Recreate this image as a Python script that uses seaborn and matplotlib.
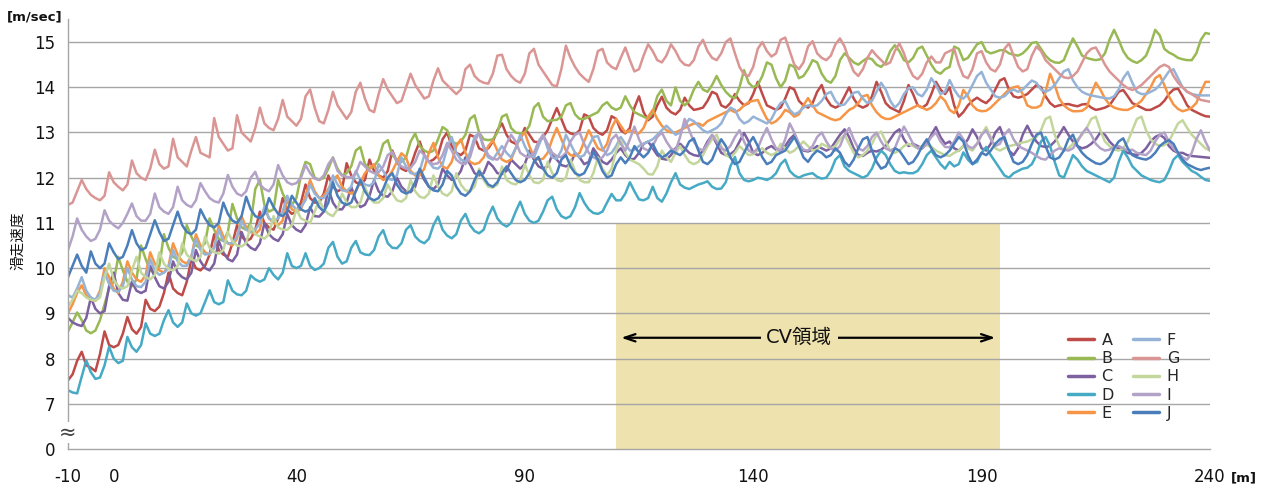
import numpy as np
import pandas as pd
import matplotlib
matplotlib.use("Agg")
import matplotlib.pyplot as plt
from matplotlib.lines import Line2D
import seaborn as sns

# ---------------- data ----------------
distance = list(range(-10, 241))  # [m], one sample per metre

A = [7.52, 7.65, 7.95, 8.15, 7.85, 7.80, 7.72, 8.10, 8.60, 8.30,
     8.25, 8.30, 8.55, 8.92, 8.65, 8.55, 8.70, 9.30, 9.10, 9.05,
     9.15, 9.45, 9.90, 9.55, 9.45, 9.40, 9.70, 10.20, 10.00, 9.95,
     10.05, 10.30, 10.75, 10.40, 10.30, 10.25, 10.55, 10.95, 10.70, 10.60,
     10.65, 10.85, 11.25, 11.00, 10.90, 10.85, 11.10, 11.55, 11.30, 11.20,
     11.25, 11.45, 11.85, 11.55, 11.45, 11.45, 11.65, 12.05, 11.80, 11.70,
     11.75, 12.32, 12.05, 11.90, 11.85, 11.95, 12.40, 12.15, 12.05, 12.00,
     12.15, 12.60, 12.35, 12.20, 12.15, 12.25, 12.55, 12.80, 12.50, 12.35,
     12.40, 12.50, 12.85, 13.00, 12.70, 12.55, 12.50, 12.60, 12.95, 12.90,
     12.65, 12.60, 12.65, 12.80, 13.05, 13.20, 12.95, 12.80, 12.75, 12.85,
     13.10, 12.95, 12.80, 12.78, 12.90, 13.05, 13.30, 13.54, 13.30, 13.05,
     12.98, 12.95, 13.05, 13.40, 13.35, 13.10, 13.00, 12.95, 13.05, 13.36,
     13.30, 13.05, 12.98, 13.10, 13.55, 13.80, 13.45, 13.27, 13.35, 13.60,
     13.79, 13.55, 13.45, 13.40, 13.50, 13.77, 13.60, 13.50, 13.52, 13.55,
     13.70, 13.90, 13.85, 13.60, 13.55, 13.65, 13.85, 13.70, 13.60, 13.65,
     13.85, 14.12, 13.85, 13.60, 13.55, 13.50, 13.55, 13.75, 14.00, 13.95,
     13.70, 13.60, 13.55, 13.65, 13.90, 14.05, 13.75, 13.60, 13.55, 13.60,
     13.80, 14.00, 13.75, 13.60, 13.55, 13.60, 13.80, 14.12, 13.90, 13.65,
     13.55, 13.50, 13.45, 13.70, 14.05, 13.85, 13.60, 13.55, 13.62, 13.85,
     14.12, 13.95, 13.85, 14.00, 13.60, 13.35, 13.45, 13.60, 13.70, 13.77,
     13.70, 13.65, 13.75, 13.95, 14.15, 14.20, 13.95, 13.80, 13.77, 13.80,
     13.85, 13.95, 14.05, 14.00, 13.80, 13.65, 13.57, 13.60, 13.62, 13.63,
     13.60, 13.58, 13.62, 13.63, 13.55, 13.50, 13.52, 13.55, 13.60, 13.75,
     13.90, 13.94, 13.80, 13.65, 13.60, 13.55, 13.50, 13.50, 13.55, 13.60,
     13.70, 13.85, 13.95, 13.97, 13.80, 13.60, 13.50, 13.45, 13.40, 13.36,
     13.35]

B = [8.60, 8.80, 9.02, 8.85, 8.62, 8.56, 8.62, 8.85, 9.20, 9.55,
     9.70, 10.25, 9.95, 9.70, 9.60, 9.75, 10.50, 10.20, 9.95, 9.90,
     10.05, 10.75, 10.45, 10.25, 10.20, 10.35, 10.95, 10.70, 10.50, 10.45,
     10.55, 11.10, 10.85, 10.65, 10.60, 10.80, 11.42, 11.10, 10.90, 10.85,
     11.00, 11.75, 11.95, 11.40, 11.25, 11.30, 11.95, 11.65, 11.45, 11.40,
     11.55, 12.05, 12.35, 12.30, 12.00, 11.95, 12.00, 12.20, 12.45, 12.20,
     12.05, 12.10, 12.25, 12.60, 12.68, 12.30, 12.20, 12.25, 12.40, 12.75,
     12.83, 12.50, 12.40, 12.35, 12.45, 12.80, 12.98, 12.70, 12.60, 12.55,
     12.60, 12.85, 13.12, 13.05, 12.80, 12.75, 12.80, 12.95, 13.30, 13.38,
     13.00, 12.85, 12.83, 12.85, 13.00, 13.35, 13.40, 13.10, 13.00, 12.98,
     13.00, 13.15, 13.55, 13.65, 13.35, 13.25, 13.27, 13.28, 13.35, 13.60,
     13.65, 13.40, 13.30, 13.30, 13.35, 13.40, 13.45, 13.60, 13.67, 13.55,
     13.50, 13.55, 13.80, 13.60, 13.45, 13.40, 13.35, 13.30, 13.45, 13.80,
     13.95, 13.70, 13.60, 14.00, 13.70, 13.60, 13.70, 13.95, 14.12, 13.95,
     13.90, 14.05, 14.25, 14.05, 13.90, 13.80, 13.76, 14.00, 14.38, 14.10,
     14.00, 14.05, 14.25, 14.55, 14.50, 14.20, 14.00, 14.15, 14.50, 14.45,
     14.20, 14.25, 14.40, 14.60, 14.55, 14.30, 14.15, 14.10, 14.25, 14.60,
     14.75, 14.65, 14.55, 14.50, 14.58, 14.65, 14.62, 14.50, 14.45, 14.55,
     14.80, 14.93, 14.80, 14.60, 14.55, 14.65, 14.85, 14.90, 14.70, 14.50,
     14.35, 14.30, 14.40, 14.45, 14.90, 14.85, 14.60, 14.65, 14.80, 14.95,
     15.00, 14.80, 14.75, 14.78, 14.82, 14.82, 14.75, 14.72, 14.70, 14.75,
     14.85, 14.98, 15.00, 14.85, 14.70, 14.60, 14.55, 14.54, 14.60, 14.85,
     15.08, 14.90, 14.70, 14.65, 14.62, 14.60, 14.62, 14.75, 15.05, 15.27,
     15.05, 14.80, 14.65, 14.58, 14.54, 14.60, 14.70, 14.95, 15.27, 15.15,
     14.85, 14.77, 14.72, 14.65, 14.62, 14.60, 14.60, 14.75, 15.05, 15.20,
     15.18]

C = [8.90, 8.80, 8.75, 8.72, 8.90, 9.35, 9.10, 9.00, 9.05, 9.60,
     9.90, 9.45, 9.30, 9.28, 9.70, 9.50, 9.45, 9.50, 10.05, 9.80,
     9.60, 9.55, 9.70, 10.15, 9.90, 9.80, 9.75, 9.90, 10.40, 10.15,
     10.00, 9.95, 10.10, 10.60, 10.35, 10.20, 10.15, 10.30, 10.80, 10.55,
     10.45, 10.40, 10.55, 11.00, 10.75, 10.65, 10.60, 10.75, 11.20, 10.95,
     10.85, 10.80, 10.95, 11.35, 11.15, 11.14, 11.25, 11.75, 11.45, 11.30,
     11.30, 11.45, 11.80, 11.50, 11.35, 11.40, 11.60, 11.95, 11.70, 11.60,
     11.58, 11.70, 12.00, 11.80, 11.70, 11.68, 11.80, 12.15, 11.95, 11.80,
     11.75, 11.85, 12.20, 12.05, 11.95, 12.00, 12.15, 12.45, 12.30, 12.10,
     12.05, 12.10, 12.35, 12.25, 12.10, 12.08, 12.15, 12.40, 12.30, 12.20,
     12.30, 12.60, 12.40, 12.25, 12.20, 12.25, 12.50, 12.40, 12.28, 12.25,
     12.30, 12.55, 12.45, 12.30, 12.35, 12.65, 12.50, 12.35, 12.30, 12.40,
     12.55, 12.65, 12.50, 12.40, 12.42, 12.55, 12.75, 12.80, 12.65, 12.50,
     12.42, 12.40, 12.50, 12.65, 12.75, 12.65, 12.55, 12.50, 12.48, 12.60,
     12.80, 12.94, 12.75, 12.55, 12.50, 12.52, 12.60, 12.80, 12.99, 12.80,
     12.55, 12.50, 12.55, 12.65, 12.70, 12.62, 12.60, 12.70, 12.85, 12.95,
     12.75, 12.60, 12.58, 12.62, 12.70, 12.65, 12.60, 12.65, 12.80, 12.95,
     13.07, 12.90, 12.65, 12.50, 12.48, 12.55, 12.60, 12.58, 12.62, 12.70,
     12.85, 13.00, 13.07, 12.85, 12.70, 12.75, 12.70, 12.65, 12.75, 12.95,
     13.12, 12.90, 12.75, 12.80, 12.65, 12.60, 12.70, 12.85, 13.07, 12.90,
     12.65, 12.60, 12.75, 13.00, 13.12, 12.85, 12.60, 12.50, 12.65, 12.95,
     13.15, 12.95, 12.80, 12.70, 12.68, 12.70, 12.80, 12.95, 13.12, 12.95,
     12.80, 12.70, 12.65, 12.68, 12.75, 12.85, 13.00, 12.95, 12.80, 12.70,
     12.65, 12.60, 12.55, 12.52, 12.50, 12.55, 12.65, 12.80, 12.90, 12.95,
     12.88, 12.70, 12.60, 12.55, 12.55, 12.50, 12.48, 12.47, 12.46, 12.45,
     12.44]

D = [7.30, 7.25, 7.23, 7.60, 7.96, 7.70, 7.55, 7.58, 7.85, 8.26,
     8.00, 7.90, 7.95, 8.48, 8.25, 8.15, 8.30, 8.78, 8.55, 8.50,
     8.55, 8.85, 9.07, 8.80, 8.70, 8.80, 9.22, 9.00, 8.95, 9.00,
     9.25, 9.51, 9.25, 9.20, 9.25, 9.73, 9.50, 9.42, 9.40, 9.50,
     9.84, 9.75, 9.70, 9.75, 10.00, 9.85, 9.75, 9.90, 10.33, 10.05,
     10.00, 10.05, 10.33, 10.05, 9.96, 10.00, 10.10, 10.45, 10.58, 10.25,
     10.10, 10.15, 10.45, 10.60, 10.35, 10.30, 10.29, 10.40, 10.70, 10.84,
     10.55, 10.45, 10.44, 10.55, 10.85, 10.95, 10.70, 10.60, 10.55, 10.65,
     10.95, 11.14, 10.85, 10.72, 10.66, 10.75, 11.05, 11.20, 10.95, 10.82,
     10.77, 10.85, 11.15, 11.36, 11.10, 10.98, 10.92, 11.00, 11.25, 11.47,
     11.20, 11.05, 11.00, 11.05, 11.25, 11.50, 11.58, 11.30, 11.15, 11.10,
     11.15, 11.35, 11.66, 11.45, 11.30, 11.22, 11.20, 11.25, 11.45, 11.64,
     11.50, 11.50, 11.65, 11.90, 11.70, 11.52, 11.50, 11.55, 11.80, 11.55,
     11.47, 11.65, 11.90, 12.10, 11.85, 11.78, 11.75, 11.80, 11.85, 11.88,
     11.92, 11.80, 11.75, 11.76, 11.90, 12.25, 12.46, 12.10, 11.95, 11.92,
     11.95, 12.00, 11.98, 11.95, 12.00, 12.10, 12.30, 12.40, 12.15, 12.05,
     12.00, 12.05, 12.08, 12.10, 12.02, 11.98, 12.00, 12.15, 12.40, 12.50,
     12.25, 12.15, 12.10, 12.05, 12.00, 12.05, 12.20, 12.45, 12.60, 12.50,
     12.30, 12.15, 12.10, 12.12, 12.10, 12.10, 12.15, 12.30, 12.50, 12.60,
     12.45, 12.30, 12.20, 12.35, 12.25, 12.30, 12.56, 12.40, 12.30, 12.35,
     12.55, 12.68, 12.50, 12.35, 12.20, 12.05, 12.00, 12.10, 12.15, 12.20,
     12.22, 12.30, 12.50, 12.80, 12.90, 12.70, 12.35, 12.05, 12.00, 12.25,
     12.50, 12.40, 12.25, 12.15, 12.10, 12.05, 12.00, 11.95, 11.90, 12.00,
     12.35, 12.60, 12.45, 12.25, 12.15, 12.05, 12.00, 11.95, 11.92, 11.90,
     11.95, 12.15, 12.40, 12.50, 12.35, 12.25, 12.15, 12.10, 12.02, 11.95,
     11.93]

E = [9.00, 9.20, 9.45, 9.62, 9.40, 9.30, 9.28, 9.50, 10.00, 9.80,
     9.55, 9.45, 9.70, 10.15, 9.90, 9.75, 9.70, 9.85, 10.35, 10.10,
     9.95, 9.90, 10.05, 10.55, 10.30, 10.15, 10.10, 10.25, 10.75, 10.50,
     10.35, 10.30, 10.45, 10.95, 10.70, 10.55, 10.50, 10.65, 11.15, 10.90,
     10.80, 10.75, 10.85, 11.35, 11.10, 11.00, 10.95, 11.05, 11.55, 11.30,
     11.25, 11.30, 11.60, 11.95, 11.70, 11.55, 11.60, 11.75, 11.95, 12.05,
     11.80, 11.70, 11.65, 11.70, 11.90, 12.10, 12.20, 12.30, 12.05, 11.95,
     12.00, 12.15, 12.35, 12.54, 12.45, 12.15, 12.05, 12.05, 12.20, 12.55,
     12.77, 12.45, 12.25, 12.20, 12.35, 12.70, 12.85, 12.55, 12.35, 12.30,
     12.33, 12.45, 12.70, 12.82, 12.60, 12.40, 12.35, 12.40, 12.65, 12.90,
     13.00, 12.70, 12.45, 12.40, 12.42, 12.55, 12.85, 13.10, 12.85, 12.60,
     12.50, 12.48, 12.55, 12.80, 13.05, 12.85, 12.65, 12.60, 12.75, 13.10,
     13.30, 13.15, 13.00, 13.05, 13.00, 12.98, 13.10, 13.35, 13.50, 13.30,
     13.15, 13.05, 13.00, 13.00, 13.05, 13.10, 13.15, 13.20, 13.20, 13.15,
     13.25, 13.30, 13.35, 13.40, 13.45, 13.50, 13.45, 13.50, 13.60, 13.67,
     13.70, 13.72, 13.50, 13.30, 13.20, 13.25, 13.35, 13.50, 13.45, 13.35,
     13.40, 13.60, 13.76, 13.60, 13.45, 13.40, 13.35, 13.30, 13.27, 13.30,
     13.40, 13.50, 13.55, 13.65, 13.80, 13.83, 13.60, 13.45, 13.35, 13.30,
     13.30, 13.35, 13.40, 13.45, 13.50, 13.55, 13.60, 13.55, 13.50, 13.55,
     13.65, 13.80, 13.70, 13.50, 13.43, 13.60, 13.94, 13.80, 13.60, 13.50,
     13.47, 13.48, 13.55, 13.65, 13.75, 13.85, 13.95, 14.00, 14.02, 13.85,
     13.60, 13.55, 13.55, 13.60, 13.90, 14.30, 14.05, 13.75, 13.60, 13.52,
     13.47, 13.47, 13.48, 13.55, 13.85, 14.10, 13.95, 13.75, 13.62, 13.55,
     13.52, 13.50, 13.50, 13.55, 13.62, 13.70, 13.85, 14.00, 14.20, 14.27,
     14.05, 13.80, 13.62, 13.52, 13.47, 13.50, 13.55, 13.65, 13.90, 14.12,
     14.12]

F = [9.40, 9.35, 9.55, 9.80, 9.50, 9.35, 9.30, 9.45, 9.90, 9.65,
     9.50, 9.48, 9.60, 10.00, 9.75, 9.60, 9.58, 9.70, 10.20, 9.95,
     9.85, 9.90, 10.00, 10.40, 10.15, 10.05, 10.05, 10.25, 10.65, 10.40,
     10.30, 10.32, 10.45, 10.85, 10.60, 10.55, 10.55, 10.70, 11.05, 10.85,
     10.80, 10.85, 11.00, 11.35, 11.10, 11.05, 11.10, 11.25, 11.60, 11.40,
     11.30, 11.35, 11.50, 11.85, 11.65, 11.55, 11.55, 11.70, 12.05, 11.85,
     11.72, 11.70, 11.80, 12.15, 11.95, 11.85, 11.82, 11.90, 12.30, 12.15,
     11.98, 11.95, 12.05, 12.45, 12.25, 12.10, 12.08, 12.15, 12.50, 12.35,
     12.22, 12.20, 12.30, 12.65, 12.90, 12.55, 12.40, 12.35, 12.55, 12.90,
     12.99, 12.65, 12.45, 12.40, 12.55, 12.70, 12.55, 12.45, 12.65, 12.95,
     12.70, 12.50, 12.45, 12.70, 12.95, 12.65, 12.45, 12.42, 12.60, 12.95,
     12.75, 12.55, 12.45, 12.50, 12.70, 12.90, 12.92, 12.65, 12.50, 12.55,
     12.70, 12.90, 12.75, 12.60, 12.62, 12.70, 12.75, 12.80, 12.85, 12.95,
     13.05, 13.15, 13.05, 12.95, 13.00, 13.15, 13.30, 13.25, 13.15, 13.05,
     13.00, 13.05, 13.10, 13.20, 13.40, 13.55, 13.50, 13.30, 13.20, 13.25,
     13.35, 13.30, 13.25, 13.20, 13.30, 13.50, 13.65, 13.70, 13.50, 13.40,
     13.45, 13.55, 13.60, 13.58, 13.60, 13.70, 13.85, 13.90, 13.70, 13.60,
     13.62, 13.75, 13.88, 13.90, 13.75, 13.65, 13.70, 13.90, 14.10, 13.95,
     13.70, 13.55, 13.65, 13.85, 13.98, 14.00, 13.85, 13.80, 13.95, 14.20,
     14.05, 13.85, 13.90, 14.16, 13.95, 13.80, 13.75, 13.85, 14.05, 14.25,
     14.34, 14.10, 13.95, 13.80, 13.77, 13.80, 13.90, 13.95, 13.90, 13.95,
     14.05, 14.15, 14.10, 13.95, 13.90, 13.95, 14.05, 14.20, 14.35, 14.40,
     14.15, 14.00, 13.90, 13.85, 13.82, 13.80, 13.78, 13.76, 13.75, 13.80,
     13.95, 14.20, 14.34, 14.10, 13.90, 13.85, 13.85, 13.90, 13.95, 14.05,
     14.20, 14.35, 14.40, 14.20, 14.00, 13.90, 13.85, 13.83, 13.82, 13.82,
     13.82]

G = [11.40, 11.45, 11.70, 11.95, 11.75, 11.62, 11.55, 11.50, 11.60, 12.12,
     11.90, 11.80, 11.72, 11.85, 12.38, 12.10, 12.00, 11.95, 12.20, 12.62,
     12.30, 12.20, 12.25, 12.86, 12.45, 12.35, 12.25, 12.60, 12.90, 12.55,
     12.50, 12.45, 13.32, 12.90, 12.75, 12.60, 12.65, 13.38, 13.00, 12.90,
     12.80, 13.10, 13.55, 13.20, 13.10, 13.05, 13.30, 13.72, 13.35, 13.25,
     13.15, 13.30, 13.80, 13.95, 13.55, 13.25, 13.20, 13.50, 13.90, 13.60,
     13.45, 13.30, 13.45, 13.90, 14.10, 13.75, 13.50, 13.45, 13.85, 14.18,
     13.95, 13.80, 13.65, 13.70, 14.00, 14.30, 14.05, 13.90, 13.75, 13.80,
     14.15, 14.42, 14.15, 14.05, 13.95, 13.85, 13.95, 14.40, 14.50, 14.25,
     14.15, 14.10, 14.08, 14.30, 14.70, 14.72, 14.40, 14.25, 14.15, 14.10,
     14.30, 14.75, 14.85, 14.50, 14.35, 14.20, 14.05, 14.02, 14.40, 14.92,
     14.65, 14.45, 14.30, 14.20, 14.12, 14.40, 14.80, 14.85, 14.55, 14.45,
     14.40, 14.65, 14.88, 14.60, 14.35, 14.40, 14.70, 14.95, 14.80, 14.60,
     14.55, 14.70, 14.95, 14.80, 14.60, 14.50, 14.48, 14.60, 14.90, 15.05,
     14.80, 14.65, 14.60, 14.75, 15.00, 15.08, 14.75, 14.45, 14.28, 14.25,
     14.45, 14.85, 15.00, 14.80, 14.68, 14.75, 15.05, 15.10, 14.80, 14.50,
     14.40, 14.55, 14.90, 15.02, 14.75, 14.65, 14.60, 14.70, 14.95, 15.08,
     14.90, 14.60, 14.35, 14.25, 14.40, 14.65, 14.82, 14.70, 14.60, 14.50,
     14.55, 14.80, 14.97, 14.75, 14.45, 14.25, 14.18, 14.30, 14.55, 14.68,
     14.55, 14.55, 14.75, 14.80, 14.85, 14.50, 14.25, 14.20, 14.40, 14.75,
     14.80, 14.55, 14.40, 14.35, 14.50, 14.85, 14.97, 14.70, 14.45, 14.35,
     14.40, 14.70, 14.90, 14.80, 14.60, 14.50, 14.40, 14.30, 14.22, 14.20,
     14.25, 14.35, 14.55, 14.75, 14.85, 14.88, 14.70, 14.50, 14.35, 14.25,
     14.15, 14.05, 13.98, 13.94, 13.98, 14.05, 14.15, 14.25, 14.35, 14.45,
     14.50, 14.45, 14.25, 14.10, 14.00, 13.90, 13.85, 13.78, 13.72, 13.70,
     13.68]

H = [9.15, 9.30, 9.50, 9.45, 9.35, 9.30, 9.28, 9.35, 9.80, 10.10,
     9.75, 9.60, 9.55, 9.60, 9.95, 10.25, 9.90, 9.80, 9.75, 9.85,
     10.35, 10.10, 9.98, 9.95, 10.05, 10.55, 10.30, 10.20, 10.15, 10.25,
     10.70, 10.45, 10.35, 10.32, 10.40, 10.80, 10.60, 10.50, 10.48, 10.55,
     10.95, 10.75, 10.70, 10.65, 10.75, 11.15, 10.90, 10.85, 10.85, 10.95,
     11.30, 11.10, 11.05, 11.00, 11.25, 11.50, 11.30, 11.20, 11.15, 11.30,
     11.65, 11.45, 11.35, 11.35, 11.45, 11.80, 11.55, 11.45, 11.45, 11.55,
     11.85, 11.65, 11.50, 11.47, 11.55, 11.95, 11.70, 11.58, 11.55, 11.65,
     12.05, 11.80, 11.65, 11.60, 11.70, 12.10, 11.85, 11.72, 11.70, 11.80,
     12.20, 11.95, 11.80, 11.78, 11.85, 12.25, 11.95, 11.88, 11.85, 11.95,
     12.30, 12.05, 11.90, 11.88, 11.95, 12.35, 12.10, 11.95, 11.92, 12.00,
     12.40, 12.15, 11.95, 11.90, 11.90, 12.10, 12.45, 12.20, 12.05, 12.20,
     12.60, 12.83, 12.55, 12.40, 12.35, 12.30, 12.20, 12.08, 12.07, 12.25,
     12.60, 12.45, 12.35, 12.55, 12.70, 12.50, 12.35, 12.30, 12.35, 12.50,
     12.70, 12.85, 12.95, 12.70, 12.50, 12.45, 12.55, 12.70, 12.60, 12.50,
     12.52, 12.60, 12.65, 12.55, 12.50, 12.55, 12.75, 12.65, 12.55, 12.60,
     12.70, 12.80, 12.70, 12.60, 12.62, 12.75, 12.70, 12.65, 12.70, 12.85,
     12.95, 12.75, 12.55, 12.45, 12.50, 12.60, 12.75, 12.95, 13.02, 12.80,
     12.60, 12.55, 12.60, 12.70, 12.75, 12.70, 12.65, 12.70, 12.72, 12.68,
     12.60, 12.55, 12.50, 12.48, 12.55, 12.60, 12.70, 12.65, 12.60, 12.75,
     12.95, 13.12, 12.90, 12.65, 12.60, 12.65, 12.70, 12.72, 12.75, 12.78,
     12.80, 12.85, 12.90, 13.05, 13.30, 13.35, 12.95, 12.70, 12.60, 12.65,
     12.75, 12.85, 12.95, 13.10, 13.30, 13.35, 13.05, 12.80, 12.70, 12.62,
     12.60, 12.65, 12.80, 13.05, 13.30, 13.35, 13.05, 12.85, 12.75, 12.70,
     12.72, 12.80, 13.00, 13.20, 13.27, 13.10, 12.95, 12.85, 12.75, 12.65,
     12.60]

I = [10.40, 10.70, 11.10, 10.85, 10.70, 10.60, 10.65, 10.85, 11.28, 11.05,
     10.95, 10.88, 11.00, 11.20, 11.43, 11.15, 11.05, 11.05, 11.20, 11.65,
     11.35, 11.25, 11.20, 11.35, 11.80, 11.50, 11.40, 11.35, 11.50, 11.88,
     11.70, 11.55, 11.48, 11.45, 11.65, 12.06, 11.80, 11.65, 11.60, 11.70,
     12.00, 12.13, 11.85, 11.75, 11.70, 11.85, 12.28, 12.05, 11.90, 11.85,
     11.88, 12.00, 12.28, 12.10, 11.98, 11.95, 12.05, 12.30, 12.44, 12.15,
     12.05, 12.02, 12.00, 12.10, 12.35, 12.25, 12.15, 12.10, 12.12, 12.25,
     12.50, 12.57, 12.35, 12.25, 12.20, 12.22, 12.35, 12.60, 12.50, 12.35,
     12.30, 12.32, 12.50, 12.77, 12.60, 12.40, 12.32, 12.30, 12.45, 12.80,
     12.99, 12.70, 12.50, 12.42, 12.40, 12.50, 12.75, 12.95, 12.80, 12.55,
     12.48, 12.45, 12.55, 12.80, 12.95, 12.75, 12.55, 12.48, 12.45, 12.55,
     12.80, 12.95, 13.00, 12.75, 12.55, 12.45, 12.40, 12.45, 12.60, 12.85,
     12.95, 12.75, 12.60, 12.85, 13.13, 12.85, 12.65, 12.60, 12.70, 12.90,
     13.00, 12.80, 12.65, 12.60, 12.90, 13.30, 13.05, 12.80, 12.65, 12.60,
     12.75, 12.95, 12.80, 12.65, 12.60, 12.70, 12.90, 13.05, 12.80, 12.60,
     12.55, 12.65, 12.90, 13.10, 12.85, 12.65, 12.60, 12.85, 13.20, 13.00,
     12.75, 12.62, 12.60, 12.70, 12.90, 13.00, 12.80, 12.65, 12.60, 12.70,
     12.95, 13.10, 12.85, 12.65, 12.60, 12.70, 12.90, 13.00, 12.80, 12.65,
     12.60, 12.65, 12.90, 13.13, 12.95, 12.75, 12.65, 12.65, 12.75, 12.90,
     13.00, 12.80, 12.68, 12.67, 12.80, 13.00, 12.85, 12.70, 12.65, 12.75,
     12.95, 13.05, 12.85, 12.70, 12.75, 12.95, 13.07, 12.85, 12.70, 12.65,
     12.60, 12.55, 12.48, 12.42, 12.40, 12.50, 12.60, 12.65, 12.62, 12.60,
     12.65, 12.80, 12.98, 13.10, 12.95, 12.75, 12.65, 12.60, 12.62, 12.68,
     12.70, 12.65, 12.60, 12.62, 12.55, 12.52, 12.50, 12.60, 12.80, 12.95,
     13.00, 12.80, 12.65, 12.55, 12.45, 12.40, 12.55, 12.85, 13.05, 12.80,
     12.60]

J = [9.80, 10.05, 10.30, 10.05, 9.90, 10.37, 10.10, 10.00, 10.10, 10.55,
     10.35, 10.20, 10.25, 10.50, 10.84, 10.55, 10.40, 10.45, 10.75, 11.06,
     10.80, 10.60, 10.65, 10.95, 11.25, 10.95, 10.80, 10.75, 10.85, 11.30,
     11.10, 10.95, 10.90, 11.00, 11.45, 11.20, 11.05, 11.00, 11.15, 11.58,
     11.30, 11.15, 11.10, 11.20, 11.55, 11.35, 11.20, 11.15, 11.25, 11.60,
     11.45, 11.30, 11.25, 11.30, 11.55, 11.35, 11.25, 11.45, 11.90, 11.60,
     11.45, 11.40, 11.45, 11.70, 11.95, 11.70, 11.55, 11.50, 11.55, 11.75,
     12.00, 12.10, 11.85, 11.70, 11.65, 11.70, 11.90, 12.20, 12.00, 11.80,
     11.72, 11.70, 11.85, 12.15, 12.05, 11.80, 11.65, 11.60, 11.70, 11.95,
     12.15, 12.00, 11.85, 11.80, 11.90, 12.10, 12.25, 12.10, 11.95, 11.90,
     11.95, 12.10, 12.35, 12.46, 12.20, 12.05, 12.00, 12.10, 12.40, 12.50,
     12.25, 12.10, 12.05, 12.10, 12.30, 12.57, 12.40, 12.15, 12.00, 12.05,
     12.30, 12.45, 12.32, 12.45, 12.70, 12.55, 12.45, 12.55, 12.75, 12.55,
     12.45, 12.50, 12.60, 12.55, 12.50, 12.60, 12.80, 12.87, 12.60, 12.35,
     12.30, 12.40, 12.65, 12.85, 12.70, 12.45, 12.30, 12.35, 12.55, 12.75,
     12.90, 12.70, 12.45, 12.30, 12.35, 12.50, 12.55, 12.60, 12.75, 12.90,
     12.70, 12.45, 12.35, 12.50, 12.60, 12.55, 12.45, 12.50, 12.65, 12.55,
     12.35, 12.25, 12.40, 12.65, 12.85, 12.90, 12.60, 12.35, 12.20, 12.25,
     12.45, 12.65, 12.60, 12.45, 12.30, 12.35, 12.50, 12.70, 12.85, 12.65,
     12.50, 12.45, 12.50, 12.60, 12.75, 12.90, 12.80, 12.50, 12.30, 12.40,
     12.55, 12.50, 12.60, 12.75, 12.85, 12.90, 12.60, 12.35, 12.30, 12.35,
     12.50, 12.75, 12.95, 13.00, 12.70, 12.45, 12.40, 12.45, 12.60, 12.85,
     12.95, 12.70, 12.55, 12.45, 12.38, 12.32, 12.30, 12.35, 12.45, 12.65,
     12.80, 12.87, 12.65, 12.50, 12.45, 12.42, 12.40, 12.45, 12.55, 12.70,
     12.78, 12.83, 12.75, 12.55, 12.40, 12.30, 12.25, 12.20, 12.17, 12.20,
     12.22]

series_names = ["A", "B", "C", "D", "E", "F", "G", "H", "I", "J"]
series_values = [A, B, C, D, E, F, G, H, I, J]
series_colors = ["#BE4B48", "#98B954", "#7D60A0", "#46AAC5", "#F69546",
                 "#95B3D7", "#D99694", "#C3D69B", "#B3A2C7", "#4A7EBB"]

x_ticks = list(range(-10, 241, 10))
x_labeled = {-10: "-10", 0: "0", 40: "40", 90: "90", 140: "140", 190: "190", 240: "240"}
y_ticks = [6, 7, 8, 9, 10, 11, 12, 13, 14, 15]
y_tick_labels = ["0", "7", "8", "9", "10", "11", "12", "13", "14", "15"]

cv_start, cv_end, cv_top = 110, 194, 11
cv_label = "CV領域"
y_title = "滑走速度"

# ---------------- build long table ----------------
rows = []
for name, vals in zip(series_names, series_values):
    if len(vals) != len(distance):
        raise ValueError(f"series {name} has {len(vals)} values")
    rows.append(pd.DataFrame({"distance": distance, "speed": vals, "series": name}))
df = pd.concat(rows, ignore_index=True)

# ---------------- plot ----------------
sns.set_theme(style="white")
plt.rcParams["font.family"] = ["DejaVu Sans", "Noto Sans CJK JP"]

W, H_ = 1266, 487
fig = plt.figure(figsize=(W / 100, H_ / 100), dpi=100)
ax = fig.add_axes([68 / W, 38 / H_, (1210 - 68) / W, (449 - 19) / H_])
ax.set_xlim(-10, 240)
ax.set_ylim(6, 15.51)

grid_c = "#A6A6A6"
span_c = "#EEE2AE"
txt_c = "#111111"

ax.fill_between([cv_start, cv_end], 6, cv_top, color=span_c, linewidth=0, zorder=0.2)
for yv in y_ticks[1:]:
    ax.axhline(yv, color=grid_c, lw=1.0, zorder=0.5)

palette = dict(zip(series_names, series_colors))
sns.lineplot(data=df, x="distance", y="speed", hue="series", hue_order=series_names,
             palette=palette, linewidth=1.8, estimator=None, legend=False, ax=ax)

for s in ["top", "right"]:
    ax.spines[s].set_visible(False)
for s in ["left", "bottom"]:
    ax.spines[s].set_color(grid_c)
    ax.spines[s].set_linewidth(1.0)

ax.set_xticks(x_ticks)
ax.set_xticklabels([x_labeled.get(t, "") for t in x_ticks])
ax.set_yticks(y_ticks)
ax.set_yticklabels(y_tick_labels)
ax.tick_params(axis="x", direction="out", length=6, width=1, color=grid_c, pad=8,
               labelsize=12, labelcolor=txt_c)
ax.tick_params(axis="y", direction="out", length=5, width=1, color=grid_c, pad=4,
               labelsize=12, labelcolor=txt_c)
ax.set_xlabel("")
ax.set_ylabel("")

# axis break mark
ax.text(-10, 6.37, "≈", ha="center", va="center", fontsize=15, color="#444444",
        bbox=dict(facecolor="white", edgecolor="none", pad=0.3), zorder=5, clip_on=False)

# CV arrow and label
ax.annotate("", xy=(111.1, 8.46), xytext=(193.0, 8.46),
            arrowprops=dict(arrowstyle="<->,head_length=0.65,head_width=0.22",
                            color="black", lw=1.6, shrinkA=0, shrinkB=0), zorder=3)
ax.text(150.1, 8.46, cv_label, ha="center", va="center", fontsize=14, color=txt_c,
        family=["DejaVu Sans", "Noto Sans CJK JP"],
        bbox=dict(facecolor=span_c, edgecolor="none", pad=4), zorder=4)

# titles
fig.text(35 / W, 1 - 17 / H_, "[m/sec]", ha="center", va="center", fontsize=9.5,
         fontweight="bold", color=txt_c)
fig.text(1244 / W, 1 - 478 / H_, "[m]", ha="center", va="center", fontsize=9.5,
         fontweight="bold", color=txt_c)
fig.text(18 / W, 1 - 241 / H_, y_title, ha="center", va="center", fontsize=10.5,
         rotation=90, color=txt_c, family=["Noto Sans CJK JP", "DejaVu Sans"])

# legend
handles = [Line2D([0], [0], color=c, lw=2.5) for c in series_colors]
ax.legend(handles, series_names, ncol=2, loc="upper left",
          bbox_to_anchor=(1068 / W, 1 - 333 / H_), bbox_transform=fig.transFigure,
          frameon=False, handlelength=1.6, handletextpad=0.5, columnspacing=1.2,
          labelspacing=0.2, fontsize=11.5, borderpad=0, borderaxespad=0)

fig.savefig("out.png", dpi=100, facecolor="white")
